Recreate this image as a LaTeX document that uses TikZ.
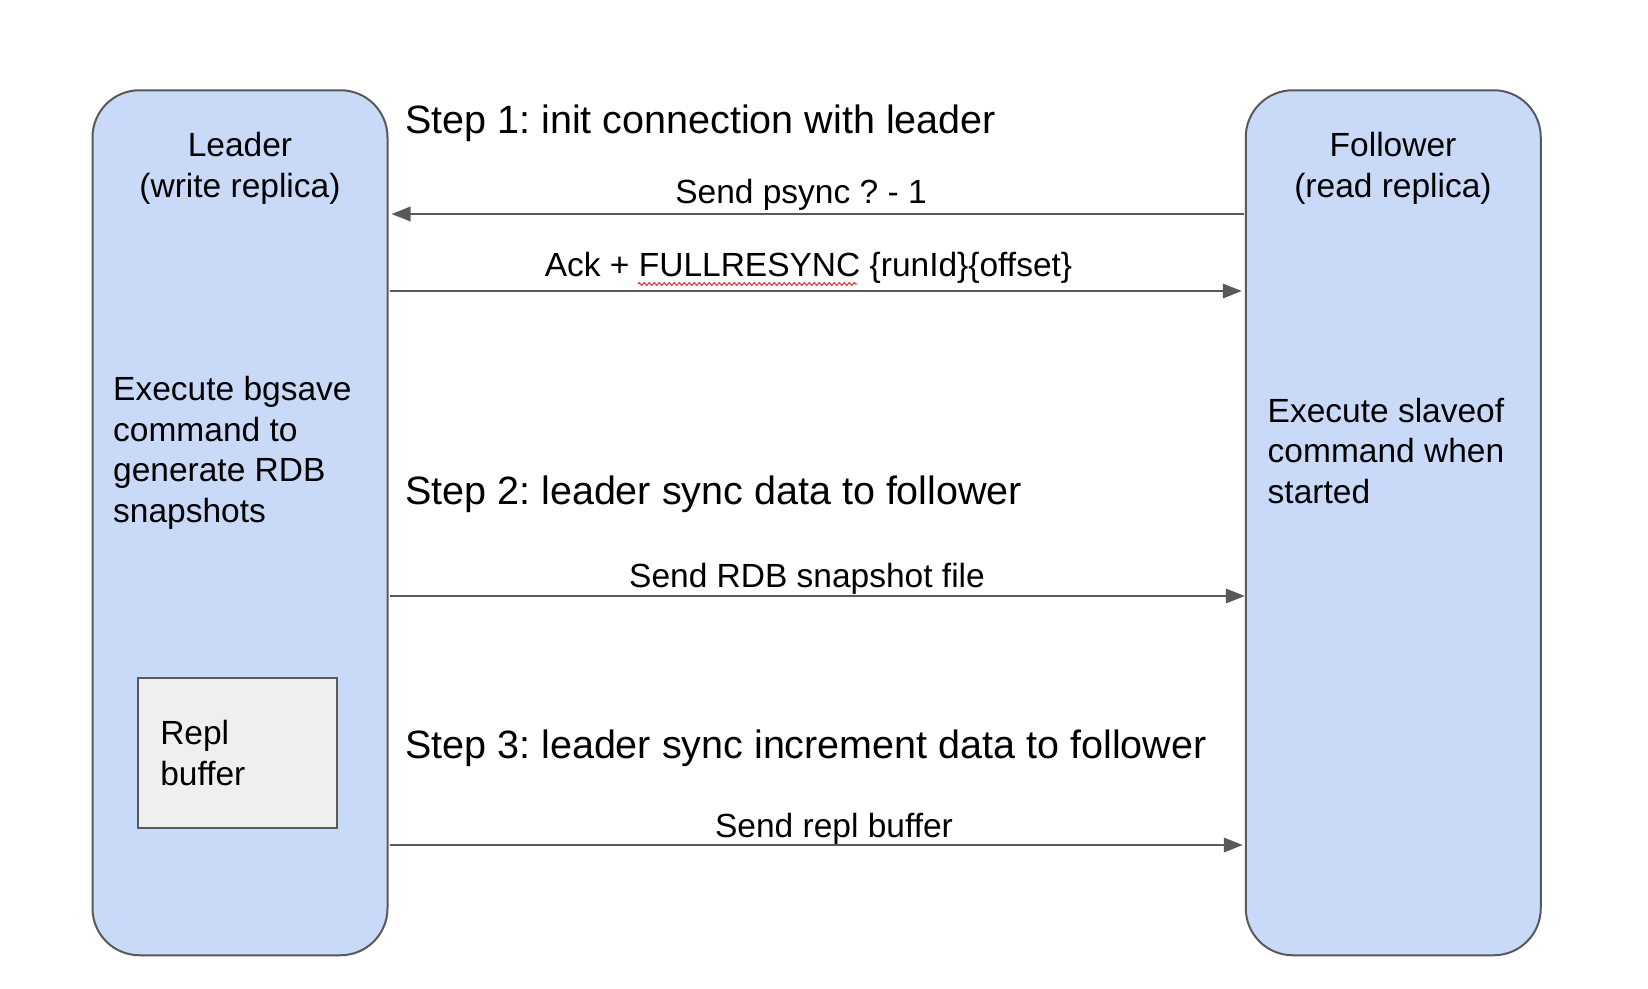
\documentclass[tikz,border=0pt]{standalone}
\usepackage{fontspec}
\setmainfont{Liberation Sans}
\usetikzlibrary{arrows.meta,decorations.pathmorphing}
\definecolor{replicablue}{HTML}{C9DAF8}
\definecolor{buffergray}{HTML}{EFEFEF}
\definecolor{linegray}{HTML}{595959}
\definecolor{spellred}{HTML}{E03030}
\frenchspacing
\begin{document}
\begin{tikzpicture}[x=1pt, y=-1pt,
  replica/.style={draw=linegray, line width=2pt, fill=replicablue, rounded corners=47pt, minimum width=295pt, minimum height=865pt, inner sep=0pt},
  bufferbox/.style={draw=linegray, line width=2pt, fill=buffergray, minimum width=199pt, minimum height=150pt, text width=155pt, inner xsep=22pt, inner ysep=0pt, align=left, font=\fontsize{33.5}{41}\selectfont},
  txt/.style={font=\fontsize{33.5}{40.5}\selectfont, inner sep=0pt},
  steptxt/.style={font=\fontsize{39.5}{48}\selectfont, inner sep=0pt, anchor=base west},
  msg/.style={draw=linegray, line width=2pt, shorten >=3pt, shorten <=1pt, -{Triangle[length=19pt, width=14.5pt]}}]
  \useasboundingbox (0,0) rectangle (1648,988);
  \node[replica] (leader) at (240,522.75) {};
  \node[replica] (follower) at (1393.25,522.75) {};
  \node[txt, align=center, anchor=base] (leaderlbl) at (240,197) {Leader\\(write replica)};
  \node[txt, align=center, anchor=base] (followerlbl) at (1393,197) {Follower\\(read replica)};
  \node[txt, align=left, anchor=base west] (bgsave) at (113,522) {Execute bgsave\\command to\\generate RDB\\snapshots};
  \node[txt, align=left, anchor=base west] (slaveof) at (1267.5,503) {Execute slaveof\\command when\\started};
  \node[bufferbox] (replbuf) at (237.8,752.7) {Repl\\buffer};
  \node[steptxt] (step1) at (405,133.5) {Step 1: init connection with leader};
  \node[steptxt] (step2) at (405,504) {Step 2: leader sync data to follower};
  \node[steptxt] (step3) at (405,758) {Step 3: leader sync increment data to follower};
  \coordinate (m1) at (0,214);
  \coordinate (m2) at (0,291);
  \coordinate (m3) at (0,596);
  \coordinate (m4) at (0,845);
  \node[txt, anchor=base] (psync) at (801,203) {Send psync ? - 1};
  \node[txt, anchor=base] (ack) at (808.5,276) {Ack + FULLRESYNC \{runId\}\{offset\}};
  \node[txt, anchor=base] (rdbfile) at (807,587) {Send RDB snapshot file};
  \node[txt, anchor=base] (replsend) at (834,837) {Send repl buffer};
  \draw[msg] (follower.west |- m1) -- (leader.east |- m1);
  \draw[msg] (leader.east |- m2) -- (follower.west |- m2);
  \draw[msg, shorten >=0pt] (leader.east |- m3) -- (follower.west |- m3);
  \draw[msg, shorten >=2pt] (leader.east |- m4) -- (follower.west |- m4);
  \draw[spellred, line width=1pt, decorate, decoration={zigzag, segment length=5pt, amplitude=1.5pt}] (638,284) -- (857,284);
\end{tikzpicture}
\end{document}
